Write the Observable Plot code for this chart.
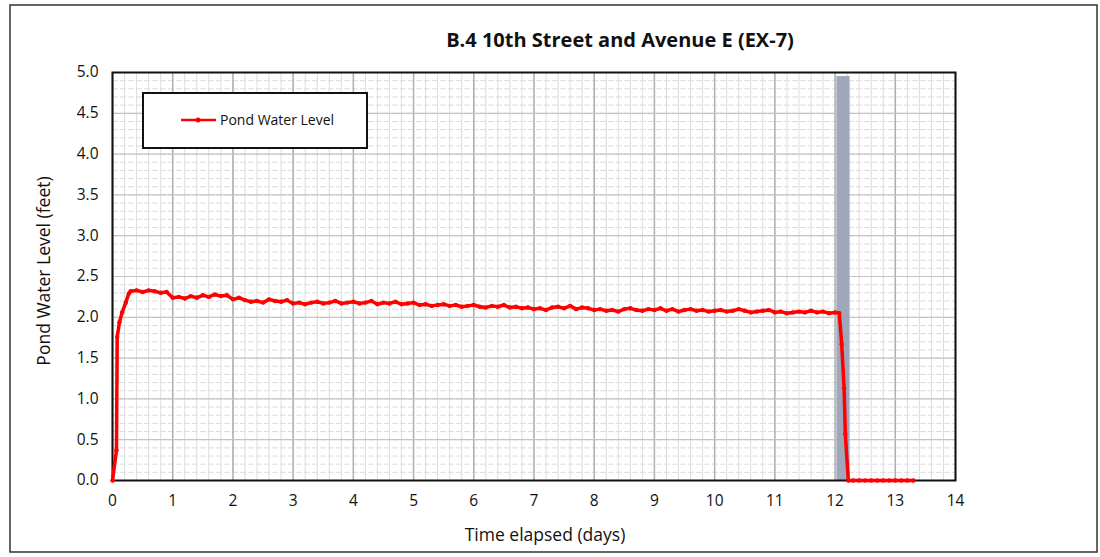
<!DOCTYPE html>
<html>
<head>
<meta charset="utf-8">
<script src="https://cdn.jsdelivr.net/npm/d3@7"></script>
<script src="https://cdn.jsdelivr.net/npm/@observablehq/plot@0.6"></script>
<style>
  html, body { margin: 0; padding: 0; background: #fff; }
  #chart { width: 1100px; height: 557px; }
  svg { font-family: "Open Sans", "Noto Sans", sans-serif; }
</style>
</head>
<body>
<div id="chart"></div>
<script>
// ---- data ----
const title = "B.4 10th Street and Avenue E (EX-7)";
const seriesName = "Pond Water Level";
const xLabel = "Time elapsed (days)";
const yLabel = "Pond Water Level (feet)";

const xTicks = [0,1,2,3,4,5,6,7,8,9,10,11,12,13,14];
const yTicks = [0,0.5,1,1.5,2,2.5,3,3.5,4,4.5,5];

// shaded band (days)
const bandStart = 12.03;
const bandEnd = 12.25;

// elapsed time (days)
const days = [
  0, 0.066, 0.078, 0.116, 0.16, 0.22, 0.27,
  0.3, 0.4, 0.5, 0.6, 0.7, 0.8, 0.9,
  1.0, 1.1, 1.2, 1.3, 1.4, 1.5, 1.6, 1.7, 1.8, 1.9,
  2.0, 2.1, 2.2, 2.3, 2.4, 2.5, 2.6, 2.7, 2.8, 2.9,
  3.0, 3.1, 3.2, 3.3, 3.4, 3.5, 3.6, 3.7, 3.8, 3.9,
  4.0, 4.1, 4.2, 4.3, 4.4, 4.5, 4.6, 4.7, 4.8, 4.9,
  5.0, 5.1, 5.2, 5.3, 5.4, 5.5, 5.6, 5.7, 5.8, 5.9,
  6.0, 6.1, 6.2, 6.3, 6.4, 6.5, 6.6, 6.7, 6.8, 6.9,
  7.0, 7.1, 7.2, 7.3, 7.4, 7.5, 7.6, 7.7, 7.8, 7.9,
  8.0, 8.1, 8.2, 8.3, 8.4, 8.5, 8.6, 8.7, 8.8, 8.9,
  9.0, 9.1, 9.2, 9.3, 9.4, 9.5, 9.6, 9.7, 9.8, 9.9,
  10.0, 10.1, 10.2, 10.3, 10.4, 10.5, 10.6, 10.7, 10.8, 10.9,
  11.0, 11.1, 11.2, 11.3, 11.4, 11.5, 11.6, 11.7, 11.8, 11.9,
  12.0, 12.07, 12.11, 12.15, 12.17, 12.22,
  12.3, 12.4, 12.5, 12.6, 12.7, 12.8, 12.9, 13.0, 13.1, 13.2, 13.3
];

// pond water level (feet)
const levels = [
  0, 0.37, 1.76, 1.94, 2.06, 2.18, 2.29,
  2.32, 2.33, 2.31, 2.33, 2.32, 2.30, 2.31,
  2.24, 2.25, 2.23, 2.26, 2.24, 2.27, 2.25, 2.28, 2.26, 2.27,
  2.22, 2.24, 2.21, 2.19, 2.20, 2.18, 2.22, 2.20, 2.19, 2.21,
  2.17, 2.18, 2.16, 2.18, 2.19, 2.17, 2.18, 2.20, 2.17, 2.18,
  2.19, 2.17, 2.18, 2.20, 2.16, 2.18, 2.17, 2.19, 2.16, 2.17,
  2.18, 2.15, 2.16, 2.14, 2.15, 2.16, 2.14, 2.15, 2.13, 2.14,
  2.15, 2.13, 2.12, 2.14, 2.13, 2.15, 2.12, 2.13, 2.11, 2.12,
  2.10, 2.11, 2.09, 2.12, 2.13, 2.11, 2.14, 2.10, 2.12, 2.11,
  2.09, 2.10, 2.08, 2.09, 2.07, 2.10, 2.11, 2.09, 2.08, 2.10,
  2.09, 2.11, 2.08, 2.10, 2.07, 2.09, 2.10, 2.08, 2.09, 2.07,
  2.08, 2.09, 2.07, 2.08, 2.10, 2.08, 2.06, 2.07, 2.08, 2.09,
  2.06, 2.07, 2.05, 2.06, 2.07, 2.06, 2.08, 2.06, 2.07, 2.05,
  2.06, 2.05, 1.67, 1.13, 0.57, 0,
  0, 0, 0, 0, 0, 0, 0, 0, 0, 0, 0
];

const data = days.map((d, i) => ({day: d, level: levels[i]}));

const minorX = d3.range(0, 14.001, 0.2);
const minorY = d3.range(0, 5.001, 0.1);

const chart = Plot.plot({
  width: 1100,
  height: 557,
  marginLeft: 112,
  marginRight: 145,
  marginTop: 72,
  marginBottom: 77,
  style: {fontFamily: "'Open Sans', 'Noto Sans', sans-serif", fontSize: "15.5px", color: "#111", background: "white"},
  x: {domain: [0, 14], ticks: xTicks, tickSize: 0, tickPadding: 14, label: null, tickFormat: d => String(d)},
  y: {domain: [0, 5], ticks: yTicks, tickSize: 0, tickPadding: 14, label: null, tickFormat: d3.format(".1f")},
  marks: [
    Plot.ruleX(minorX, {stroke: "#dcdcdc", strokeWidth: 1}),
    Plot.ruleY(minorY, {stroke: "#dcdcdc", strokeWidth: 1, strokeDasharray: "6,2"}),
    Plot.ruleX(xTicks, {stroke: "#b0b0b0", strokeWidth: 1.5}),
    Plot.ruleY(yTicks, {stroke: "#c4c4c4", strokeWidth: 1.2}),
    Plot.rect([{x1: bandStart, x2: bandEnd}], {x1: "x1", x2: "x2", y1: 0, y2: 4.95, fill: "#9aa2b6", fillOpacity: 0.95}),
    Plot.frame({stroke: "#111", strokeWidth: 2}),
    Plot.line(data, {x: "day", y: "level", stroke: "#ff0000", strokeWidth: 3.5}),
    Plot.dot(data, {x: "day", y: "level", fill: "#ff0000", r: 2.2, stroke: "none"})
  ]
});

document.getElementById("chart").appendChild(chart);

const svg = d3.select(chart);
// outer frame
svg.append("rect")
  .attr("x", 10).attr("y", 5).attr("width", 1087).attr("height", 547)
  .attr("fill", "none").attr("stroke", "#333").attr("stroke-width", 1.5);
// title
svg.append("text")
  .attr("x", 620).attr("y", 47)
  .attr("text-anchor", "middle")
  .attr("font-size", 20).attr("font-weight", "bold").attr("fill", "#111")
  .text(title);
// axis labels
svg.append("text")
  .attr("x", 545).attr("y", 541)
  .attr("text-anchor", "middle").attr("font-size", 17.5).attr("fill", "#111")
  .text(xLabel);
svg.append("text")
  .attr("transform", "translate(50,271) rotate(-90)")
  .attr("text-anchor", "middle").attr("font-size", 17.5).attr("fill", "#111")
  .text(yLabel);
// legend
const lg = svg.append("g");
lg.append("rect").attr("x", 143).attr("y", 93).attr("width", 224).attr("height", 55)
  .attr("fill", "white").attr("stroke", "#111").attr("stroke-width", 2);
lg.append("line").attr("x1", 181).attr("x2", 216).attr("y1", 120).attr("y2", 120)
  .attr("stroke", "#ff0000").attr("stroke-width", 2.5);
lg.append("circle").attr("cx", 198).attr("cy", 120).attr("r", 2.5).attr("fill", "#ff0000");
lg.append("text").attr("x", 220).attr("y", 125).attr("text-anchor", "start")
  .attr("font-size", 14).attr("fill", "#111")
  .text(seriesName);
</script>
</body>
</html>
